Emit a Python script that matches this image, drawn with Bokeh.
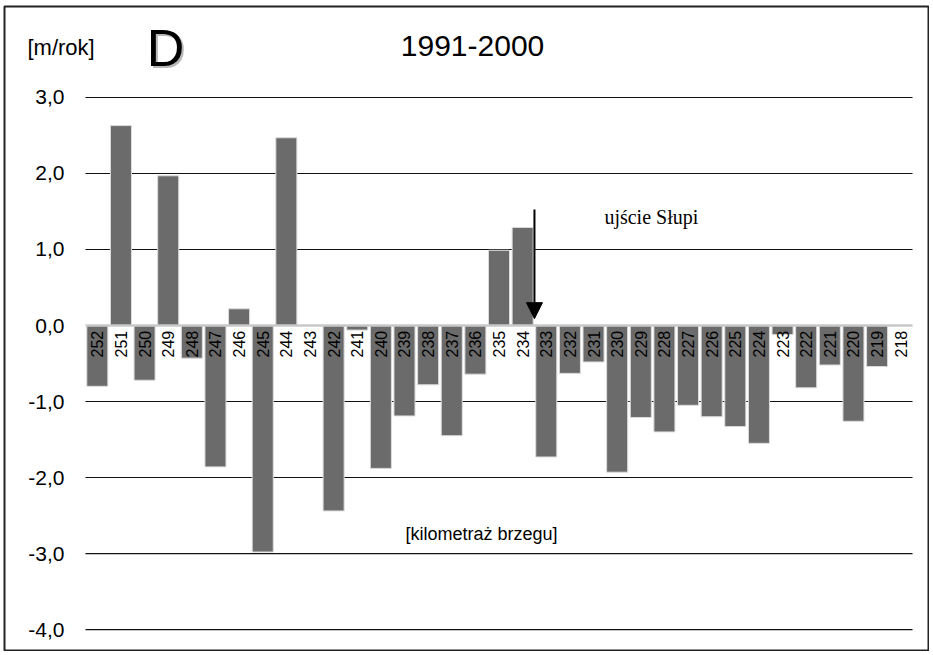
import math
from bokeh.plotting import figure
from bokeh.models import Range1d, Label, Arrow, NormalHead, ColumnDataSource
from bokeh.core.properties import value
from bokeh.embed import file_html
from bokeh.resources import INLINE

# ---- data ----
km = [252, 251, 250, 249, 248, 247, 246, 245, 244, 243, 242, 241, 240, 239, 238, 237, 236, 235,
      234, 233, 232, 231, 230, 229, 228, 227, 226, 225, 224, 223, 222, 221, 220, 219, 218]
rate = [-0.80, 2.63, -0.72, 1.97, -0.43, -1.86, 0.22, -2.98, 2.47, 0.00, -2.44, -0.06, -1.88,
        -1.19, -0.78, -1.45, -0.64, 0.99, 1.29, -1.73, -0.63, -0.48, -1.93, -1.21, -1.40,
        -1.05, -1.20, -1.33, -1.55, -0.12, -0.82, -0.52, -1.26, -0.54, 0.00]
y_ticks = [-4, -3, -2, -1, 0, 1, 2, 3]
y_tick_labels = ["-4,0", "-3,0", "-2,0", "-1,0", "0,0", "1,0", "2,0", "3,0"]
title_text = "1991-2000"
panel_letter = "D"
unit_text = "[m/rok]"
xlabel_text = "[kilometraż brzegu]"
mouth_text = "ujście Słupi"
mouth_km = 234

n = len(km)
xs = [i + 0.5 for i in range(n)]
src = ColumnDataSource(dict(x=xs, top=rate, lab=[str(k) for k in km]))

p = figure(width=929, height=651, output_backend="svg", toolbar_location=None,
           x_range=Range1d(-3.428, 35.676), y_range=Range1d(-4.289, 4.197),
           min_border_left=4, min_border_top=6, min_border_right=1, min_border_bottom=0)
p.axis.visible = False
p.grid.visible = False
p.outline_line_color = "#222222"
p.outline_line_width = 2
p.background_fill_color = "white"
p.border_fill_color = "white"

# horizontal grid lines across the category span
grid_y = [t for t in y_ticks if t != 0]
p.segment(x0=[0] * len(grid_y), x1=[n] * len(grid_y), y0=grid_y, y1=grid_y,
          line_color="#111111", line_width=1.2)

# y tick labels
p.text(x=[-0.889] * len(y_ticks), y=y_ticks, text=y_tick_labels,
       text_align="right", text_baseline="middle",
       text_font=value("Liberation Sans"), text_font_size="21px", text_color="black")

p.vbar(x="x", top="top", bottom=0, width=0.89, source=src,
       fill_color="#6b6b6b", line_color="#dcdcdc", line_width=1)

# zero line
p.segment(x0=[0], x1=[n], y0=[0], y1=[0], line_color="#c8c8c8", line_width=2.5)

p.text(x="x", y=-0.07, text="lab", source=src, angle=math.pi / 2,
       text_align="right", text_baseline="middle",
       text_font=value("Liberation Sans"), text_font_size="16px", text_color="black")

# arrow marking the river mouth
ax = km.index(mouth_km) + 1
p.add_layout(Arrow(end=NormalHead(size=16, fill_color="black", line_color="black"),
                   x_start=ax, y_start=1.526, x_end=ax, y_end=0.09,
                   line_color="black", line_width=2))

p.add_layout(Label(x=21.96, y=1.434, text=mouth_text, text_font="Liberation Serif",
                   text_font_size="20px", text_baseline="middle", text_color="black"))
p.add_layout(Label(x=13.54, y=-2.737, text=xlabel_text, text_font="Liberation Sans",
                   text_font_size="18px", text_baseline="middle", text_color="black"))
p.add_layout(Label(x=16.38, y=3.671, text=title_text, text_font="Liberation Sans",
                   text_font_size="30px", text_align="center", text_baseline="middle",
                   text_color="black"))
p.add_layout(Label(x=-2.455, y=3.658, text=unit_text, text_font="Liberation Sans",
                   text_font_size="22px", text_baseline="middle", text_color="black"))
p.add_layout(Label(x=3.386, y=3.651, x_offset=2, y_offset=-2, text=panel_letter,
                   text_font="Liberation Sans", text_font_size="52px", text_align="center",
                   text_baseline="middle", text_color="#9a9a9a", text_alpha=0.7))
p.add_layout(Label(x=3.386, y=3.651, text=panel_letter,
                   text_font="Liberation Sans", text_font_size="52px", text_align="center",
                   text_baseline="middle", text_color="black"))

open("out.html", "w").write(file_html(p, INLINE))
